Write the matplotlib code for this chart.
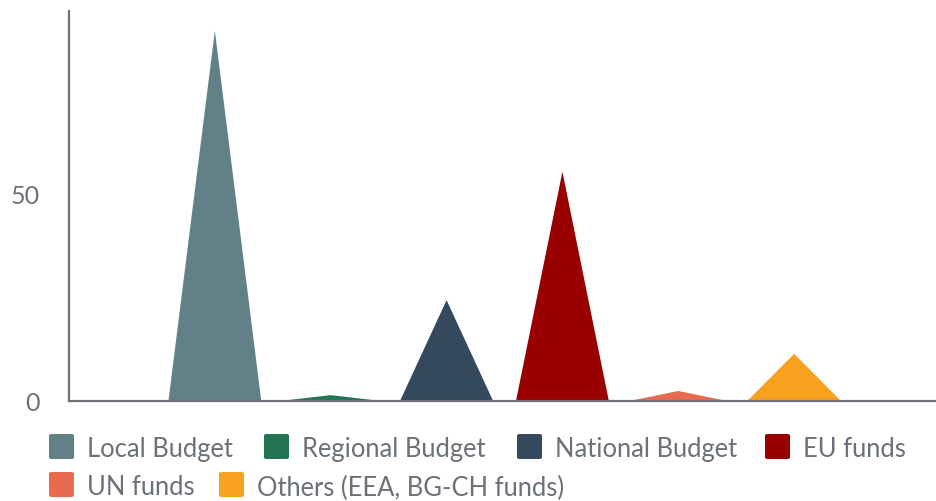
import matplotlib
matplotlib.use("Agg")
import matplotlib.pyplot as plt
from matplotlib.patches import FancyBboxPatch

plt.rcParams['font.family'] = ['Lato', 'DejaVu Sans']

# data
sources = ["Local Budget", "Regional Budget", "National Budget", "EU funds",
           "UN funds", "Others (EEA, BG-CH funds)"]
values = [89.5, 1.3, 24.3, 55.4, 2.3, 11.3]
colors = ["#628087", "#227452", "#34495e", "#990000", "#e86a4f", "#f7a11f"]

grey = "#6b7079"
W, H = 936, 502

fig = plt.figure(figsize=(W / 100, H / 100), dpi=100)
ax = fig.add_axes([69 / W, (H - 401.5) / H, (935 - 69) / W, (401.5 - 12) / H])

half = 0.4
for i, (v, c) in enumerate(zip(values, colors)):
    ax.fill([i - half, i, i + half], [0, v, 0], color=c, lw=0, zorder=2)

ax.set_xlim(-1.259, 6.216)
ax.set_ylim(0, 94.3)
ax.set_xticks([])
ax.set_yticks([0, 50])
ax.tick_params(axis='y', length=0, pad=21, labelsize=18, labelcolor=grey)
for lbl in ax.get_yticklabels():
    lbl.set_va('center_baseline')
for s in ['top', 'right']:
    ax.spines[s].set_visible(False)
for s in ['left', 'bottom']:
    ax.spines[s].set_color(grey)
    ax.spines[s].set_linewidth(1.6)
    ax.spines[s].set_zorder(3)

# legend drawn by hand: square left edges and row centres in pixels
legend_x = [49, 264, 517, 765, 49, 219]
legend_y = [447.5, 447.5, 447.5, 447.5, 485.5, 485.5]
for name, c, x, yc in zip(sources, colors, legend_x, legend_y):
    box = FancyBboxPatch((x / W, (H - yc - 12.5) / H), 25 / W, 25 / H,
                         boxstyle="round,pad=0,rounding_size=0.003",
                         transform=fig.transFigure, color=c, lw=0)
    fig.patches.append(box)
    fig.text((x + 38) / W, (H - yc) / H, name, fontsize=18.4, color=grey,
             va='center_baseline', ha='left')

fig.savefig("out.png", dpi=100)
